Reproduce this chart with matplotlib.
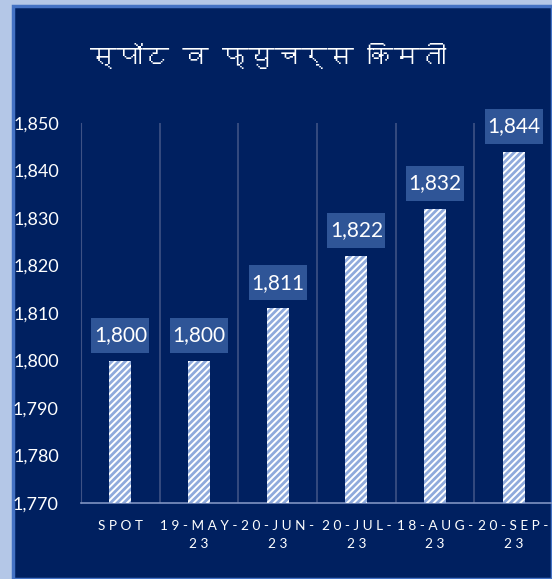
import matplotlib
matplotlib.use("Agg")
import matplotlib.pyplot as plt
import matplotlib.transforms as mtransforms
from matplotlib import font_manager, ft2font
from matplotlib.patches import Rectangle
import numpy as np

categories = ["S P O T", "1 9 - M A Y -\n2 3", "2 0 - J U N -\n2 3", "2 0 - J U L -\n2 3",
              "1 8 - A U G -\n2 3", "2 0 - S E P -\n2 3"]
values = [1800, 1800, 1811, 1822, 1832, 1844]
title = "स्पॉट व फ्युचर्स किमती"
y_ticks = [1770, 1780, 1790, 1800, 1810, 1820, 1830, 1840, 1850]

# find a font with Devanagari glyphs
deva_font = None
for f in font_manager.fontManager.ttflist:
    try:
        ft = ft2font.FT2Font(f.fname)
        if ft.get_char_index(ord("स")) != 0:
            deva_font = f.name
            break
    except Exception:
        pass

NAVY = "#002060"
plt.rcParams["hatch.linewidth"] = 2.0
fig = plt.figure(figsize=(5.52, 5.79), dpi=100, facecolor="#b4c7e7")
W, H = 552, 579
# navy panel with blue border
fig.patches.append(Rectangle((13 / W, 0), (W - 13) / W, (H - 6) / H, transform=fig.transFigure,
                             facecolor=NAVY, edgecolor="#4472c4", linewidth=2.5, zorder=-5))

ax = fig.add_axes([81 / W, 1 - 503 / H, (553 - 81) / W, (503 - 123) / H])
ax.set_facecolor("none")
x = np.arange(len(categories))
ax.bar(x, [v - 1770 for v in values], bottom=1770, width=0.28, color="white",
       edgecolor="#8faadc", linewidth=0, hatch="/////", zorder=3)
ax.set_xlim(-0.5, len(categories) - 0.5)
ax.set_ylim(1770, 1850)
ax.set_yticks(y_ticks)
ax.set_yticklabels([f"{v:,}" for v in y_ticks])
ax.set_xticks(x)
ax.set_xticklabels(categories)
ax.set_xticks(np.arange(-0.5, len(categories)), minor=True)
ax.grid(which="minor", axis="x", color="#3e5285", linewidth=1.2, zorder=1)
ax.tick_params(axis="both", which="both", length=0)
ax.tick_params(axis="y", pad=16, labelcolor="white", labelsize=13)
ax.tick_params(axis="x", pad=12, labelcolor="white", labelsize=9.8)
for lab in ax.get_yticklabels() + ax.get_xticklabels():
    lab.set_fontfamily("Lato")
for lab in ax.get_xticklabels():
    lab.set_linespacing(1.6)
for s in ["top", "right"]:
    ax.spines[s].set_visible(False)
ax.spines["left"].set_color("#3e5285")
ax.spines["bottom"].set_color("#7f93c2")
ax.spines["bottom"].set_linewidth(1.2)

for xi, v in zip(x, values):
    tr = mtransforms.IdentityTransform() + mtransforms.ScaledTranslation(xi, v, ax.transData)
    ax.add_patch(Rectangle((-29, 8), 58, 35, transform=tr, facecolor="#2f5597",
                           edgecolor="none", zorder=4, clip_on=False))
    ax.annotate(f"{v:,}", (xi, v), xytext=(0, 25.5), textcoords="offset pixels",
                ha="center", va="center", color="white", fontsize=15, family="Lato",
                zorder=5)

fam = [deva_font, "DejaVu Sans"] if deva_font else ["DejaVu Sans"]
fig.text(268 / W, 1 - 56 / H, title, ha="center", va="center", color="white",
         fontsize=19, fontweight="bold", family=fam)

fig.savefig("out.png", dpi=100, facecolor=fig.get_facecolor())
